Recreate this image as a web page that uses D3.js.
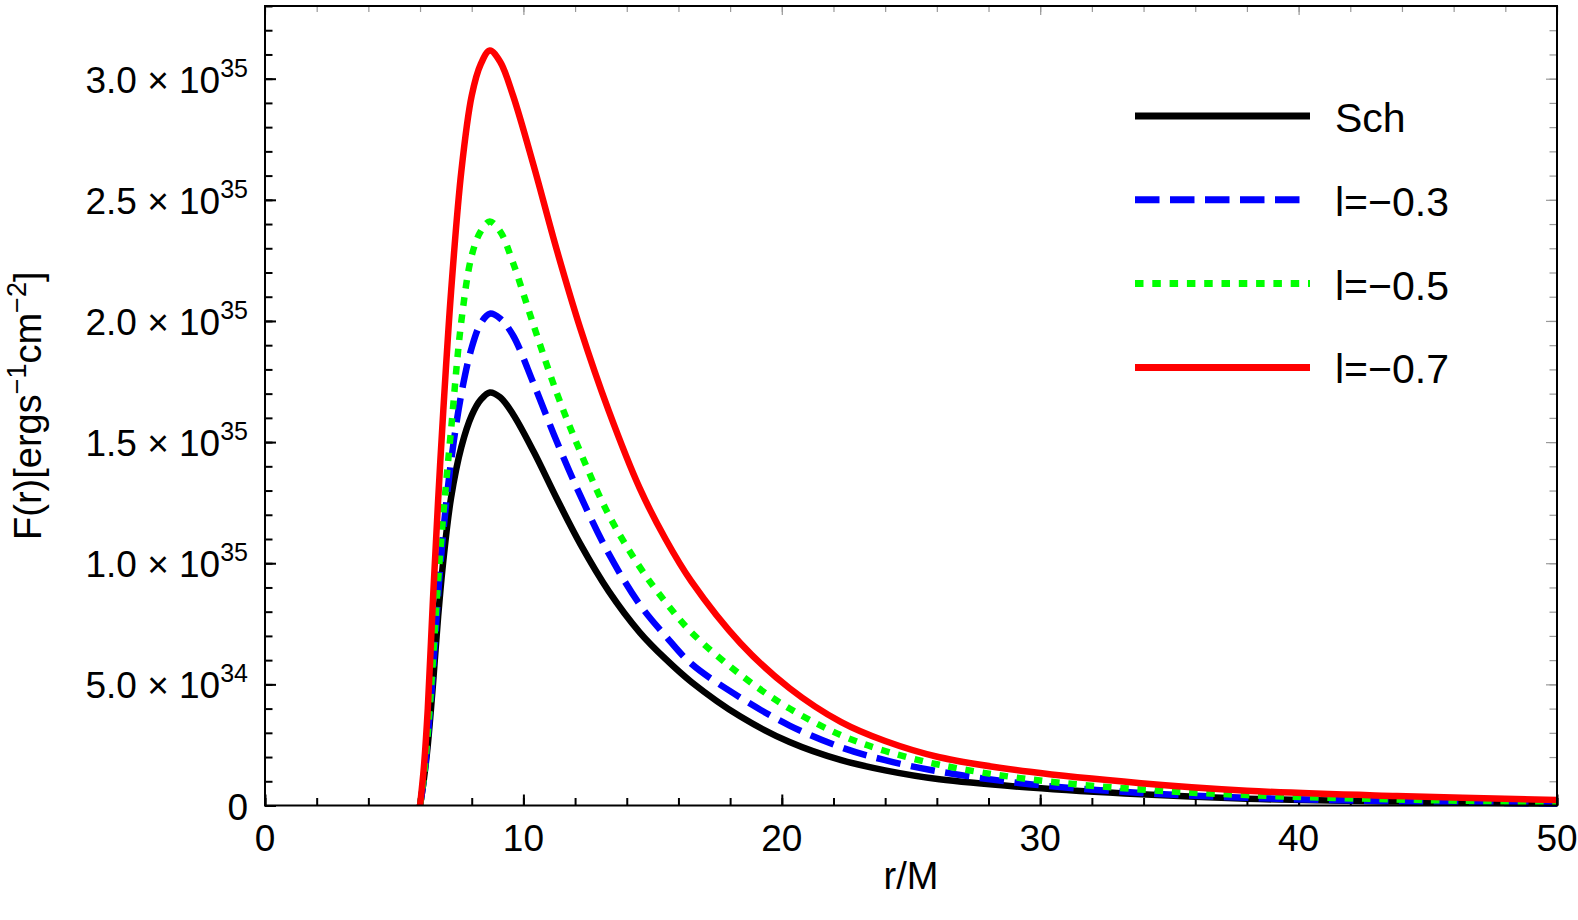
<!DOCTYPE html>
<html>
<head>
<meta charset="utf-8">
<script src="https://d3js.org/d3.v7.min.js"></script>
<style>
  html, body { margin: 0; padding: 0; background: #ffffff; }
  text { font-family: "Liberation Sans", Arial, sans-serif; fill: #000000; }
  .tick-label { font-size: 37px; }
  .axis-title { font-size: 38px; }
  .legend-label { font-size: 41px; }
</style>
</head>
<body>
<div id="chart"></div>
<script>
  // radius r/M (shared x values for every curve)
  const rValues = [6, 6.15, 6.3, 6.5, 6.7, 6.9, 7.2, 7.6, 8.0, 8.35, 8.7, 9.1, 9.6, 10.4, 11.3,
                   12.2, 13.3, 14.5, 15.5, 16.5, 18.4, 20.3, 22.3, 24, 26.1, 29.6, 33.9, 38, 43.8, 50];

  // flux in units of 1e35 erg s^-1 cm^-2
  const schFlux = [0, 0.11, 0.25, 0.50, 0.78, 1.01, 1.27, 1.48, 1.61, 1.675, 1.705, 1.685, 1.615, 1.46, 1.265,
                   1.08, 0.885, 0.715, 0.605, 0.51, 0.367, 0.262, 0.187, 0.145, 0.108, 0.074, 0.046, 0.028, 0.016, 0.008];
  const l03Flux = [0, 0.11, 0.28, 0.55, 0.87, 1.13, 1.42, 1.70, 1.89, 1.99, 2.03, 2.01, 1.94, 1.74, 1.50,
                   1.28, 1.04, 0.83, 0.70, 0.585, 0.445, 0.33, 0.24, 0.187, 0.14, 0.088, 0.052, 0.032, 0.017, 0.008];
  const l05Flux = [0, 0.12, 0.30, 0.60, 0.93, 1.20, 1.55, 2.00, 2.27, 2.37, 2.41, 2.37, 2.24, 1.98, 1.70,
                   1.46, 1.20, 0.985, 0.84, 0.715, 0.54, 0.40, 0.29, 0.225, 0.168, 0.108, 0.066, 0.043, 0.025, 0.013];
  const l07Flux = [0, 0.16, 0.40, 0.85, 1.26, 1.63, 2.12, 2.62, 2.93, 3.06, 3.116, 3.07, 2.93, 2.64, 2.29,
                   1.97, 1.63, 1.31, 1.10, 0.925, 0.67, 0.484, 0.344, 0.266, 0.199, 0.139, 0.092, 0.061, 0.039, 0.023];

  const seriesNames = ["Sch", "l=\u22120.3", "l=\u22120.5", "l=\u22120.7"];
  const seriesColors = ["#000000", "#0000ff", "#00ff00", "#ff0000"];
  const seriesDash = [null, "24.5,10.5", "8.5,8.8", null];

  // tick labels
  const xTickValues = [0, 10, 20, 30, 40, 50];
  const xTickLabels = ["0", "10", "20", "30", "40", "50"];
  const yTickValues = [0, 0.5, 1.0, 1.5, 2.0, 2.5, 3.0];
  const yTickMantissa = ["0", "5.0", "1.0", "1.5", "2.0", "2.5", "3.0"];
  const yTickExponent = ["", "34", "35", "35", "35", "35", "35"];

  const width = 1578, height = 920;
  const margin = {top: 6, right: 21, bottom: 114.5, left: 265};
  const innerW = width - margin.left - margin.right;
  const innerH = height - margin.top - margin.bottom;

  const svg = d3.select("#chart").append("svg")
    .attr("width", width)
    .attr("height", height);

  const g = svg.append("g").attr("transform", `translate(${margin.left},${margin.top})`);

  const x = d3.scaleLinear().domain([0, 50]).range([0, innerW]);
  const y = d3.scaleLinear().domain([0, 3.3]).range([innerH, 0]);

  // ticks (pointing inward), minor then major
  function tickAxis(axisFn, scale, values, size, color, width, transform) {
    const a = g.append("g")
      .attr("transform", transform)
      .call(axisFn(scale).tickValues(values).tickSize(-size).tickFormat(""));
    a.select(".domain").remove();
    a.selectAll(".tick line").attr("stroke", color).attr("stroke-width", width);
  }
  const xMinor = d3.range(0, 50.01, 2);
  const yMinor = d3.range(0, 3.301, 0.1);
  tickAxis(d3.axisBottom, x, xMinor, 7.5, "#000", 2, `translate(0,${innerH})`);
  tickAxis(d3.axisBottom, x, xTickValues, 11, "#000", 2, `translate(0,${innerH})`);
  tickAxis(d3.axisLeft, y, yMinor, 7.5, "#000", 2, "translate(0,0)");
  tickAxis(d3.axisLeft, y, yTickValues, 11, "#000", 2, "translate(0,0)");
  tickAxis(d3.axisTop, x, xMinor, 6, "#999", 1.2, "translate(0,0)");
  tickAxis(d3.axisTop, x, xTickValues, 9, "#999", 1.2, "translate(0,0)");
  tickAxis(d3.axisRight, y, yMinor, 7.5, "#999", 1.2, `translate(${innerW},0)`);
  tickAxis(d3.axisRight, y, yTickValues, 11, "#999", 1.2, `translate(${innerW},0)`);

  // curves
  g.append("clipPath").attr("id", "plotClip")
    .append("rect").attr("x", 0).attr("y", -2).attr("width", innerW).attr("height", innerH + 4);

  const seriesData = [schFlux, l03Flux, l05Flux, l07Flux].map((vals, i) => ({
    name: seriesNames[i],
    color: seriesColors[i],
    dash: seriesDash[i],
    points: rValues.map((r, j) => ({r: r, v: vals[j]}))
  }));

  const line = d3.line()
    .curve(d3.curveCatmullRom.alpha(0.5))
    .x(d => x(d.r))
    .y(d => y(d.v));

  g.append("g").attr("clip-path", "url(#plotClip)")
    .selectAll("path")
    .data(seriesData)
    .join("path")
    .attr("fill", "none")
    .attr("stroke", d => d.color)
    .attr("stroke-width", 6.5)
    .attr("stroke-dasharray", d => d.dash)
    .attr("d", d => line(d.points));

  // frame
  g.append("rect")
    .attr("x", 0).attr("y", 0)
    .attr("width", innerW).attr("height", innerH)
    .attr("fill", "none")
    .attr("stroke", "#000")
    .attr("stroke-width", 2);

  // x tick labels
  g.selectAll(".xlab")
    .data(xTickValues)
    .join("text")
    .attr("class", "tick-label")
    .attr("x", d => x(d))
    .attr("y", innerH + 45)
    .attr("text-anchor", "middle")
    .text((d, i) => xTickLabels[i]);

  // y tick labels with superscript exponents
  const ylab = g.selectAll(".ylab")
    .data(yTickValues)
    .join("text")
    .attr("class", "tick-label")
    .attr("x", -17)
    .attr("y", d => y(d) + 14)
    .attr("text-anchor", "end");
  ylab.each(function(d, i) {
    const t = d3.select(this);
    if (yTickExponent[i] === "") {
      t.text(yTickMantissa[i]);
    } else {
      t.append("tspan").text(yTickMantissa[i] + " \u00d7 10");
      t.append("tspan").attr("dy", -16).style("font-size", "25px").text(yTickExponent[i]);
    }
  });

  // axis titles
  svg.append("text")
    .attr("class", "axis-title")
    .attr("x", margin.left + innerW / 2)
    .attr("y", 889)
    .attr("text-anchor", "middle")
    .text("r/M");

  const yt = svg.append("text")
    .attr("class", "axis-title")
    .attr("transform", `translate(41,${margin.top + innerH / 2}) rotate(-90)`)
    .attr("text-anchor", "middle");
  yt.append("tspan").text("F(r)[ergs");
  yt.append("tspan").attr("dy", -15).style("font-size", "27px").text("\u22121");
  yt.append("tspan").attr("dy", 15).text("cm");
  yt.append("tspan").attr("dy", -15).style("font-size", "27px").text("\u22122");
  yt.append("tspan").attr("dy", 15).text("]");

  // legend
  const legendY = [0, 1, 2, 3].map(i => 116 + i * 83.8);
  const leg = svg.append("g").selectAll("g")
    .data(seriesData)
    .join("g")
    .attr("transform", (d, i) => `translate(1135,${legendY[i]})`);
  leg.append("line")
    .attr("x1", 0).attr("x2", 175)
    .attr("stroke", d => d.color)
    .attr("stroke-width", 7)
    .attr("stroke-dasharray", d => d.dash);
  leg.append("text")
    .attr("class", "legend-label")
    .attr("x", 200)
    .attr("y", 16)
    .text(d => d.name);
</script>
</body>
</html>
